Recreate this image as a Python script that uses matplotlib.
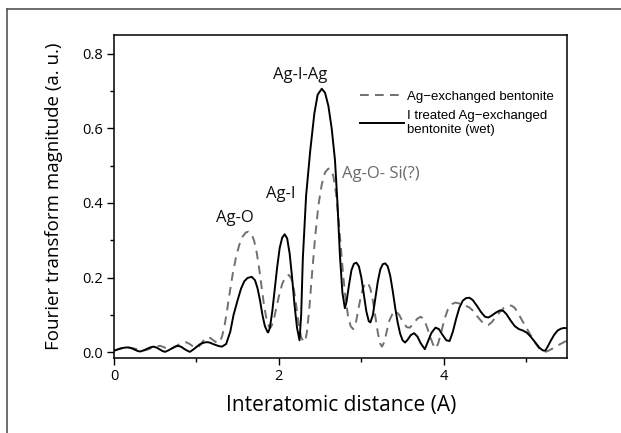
import matplotlib
matplotlib.use("Agg")
import matplotlib.pyplot as plt
from matplotlib.lines import Line2D
from matplotlib.ticker import MultipleLocator

# ---- data ----
solid_x = [0.00, 0.04, 0.08, 0.12, 0.17, 0.21, 0.25, 0.29, 0.32, 0.36, 0.40, 0.44, 0.48,
           0.52, 0.55, 0.59, 0.62, 0.66, 0.70, 0.74, 0.78, 0.82, 0.85, 0.89, 0.92, 0.96,
           1.00, 1.04, 1.08, 1.12, 1.16, 1.20, 1.25, 1.28, 1.31, 1.36, 1.41, 1.45, 1.50,
           1.54, 1.58, 1.62, 1.67, 1.71, 1.74, 1.77, 1.80, 1.83, 1.86, 1.87, 1.89, 1.92,
           1.95, 1.98, 2.01, 2.04, 2.07, 2.10, 2.13, 2.16, 2.19, 2.22, 2.25, 2.27, 2.29,
           2.33, 2.38, 2.43, 2.47, 2.52, 2.56, 2.60, 2.64, 2.68, 2.71, 2.74, 2.77, 2.80,
           2.82, 2.85, 2.88, 2.91, 2.94, 2.97, 3.00, 3.03, 3.06, 3.09, 3.11, 3.14, 3.17,
           3.20, 3.23, 3.26, 3.29, 3.32, 3.35, 3.38, 3.41, 3.44, 3.47, 3.50, 3.53, 3.56,
           3.60, 3.64, 3.68, 3.72, 3.77, 3.81, 3.85, 3.90, 3.94, 3.98, 4.03, 4.07, 4.11,
           4.15, 4.19, 4.23, 4.27, 4.31, 4.35, 4.40, 4.45, 4.50, 4.54, 4.58, 4.63, 4.68,
           4.72, 4.76, 4.81, 4.86, 4.91, 4.96, 5.01, 5.06, 5.11, 5.16, 5.20, 5.23, 5.26,
           5.30, 5.34, 5.38, 5.42, 5.46, 5.50]
solid_y = [0.004, 0.007, 0.010, 0.012, 0.013, 0.011, 0.007, 0.003, 0.002, 0.005, 0.009, 0.013, 0.015,
           0.012, 0.008, 0.003, 0.001, 0.005, 0.010, 0.015, 0.017, 0.014, 0.009, 0.004, 0.001, 0.007,
           0.014, 0.021, 0.025, 0.027, 0.026, 0.022, 0.018, 0.016, 0.015, 0.022, 0.055, 0.100, 0.140,
           0.170, 0.190, 0.199, 0.202, 0.193, 0.172, 0.140, 0.100, 0.070, 0.055, 0.053, 0.065, 0.110,
           0.170, 0.230, 0.280, 0.307, 0.316, 0.305, 0.265, 0.200, 0.125, 0.065, 0.032, 0.100, 0.250,
           0.420, 0.540, 0.640, 0.690, 0.706, 0.695, 0.660, 0.600, 0.515, 0.400, 0.260, 0.160, 0.118,
           0.135, 0.180, 0.220, 0.237, 0.240, 0.230, 0.200, 0.155, 0.110, 0.083, 0.080, 0.100, 0.145,
           0.190, 0.222, 0.236, 0.238, 0.230, 0.205, 0.165, 0.120, 0.080, 0.050, 0.032, 0.026, 0.033,
           0.046, 0.051, 0.042, 0.024, 0.008, 0.030, 0.052, 0.066, 0.062, 0.048, 0.032, 0.030, 0.055,
           0.090, 0.120, 0.138, 0.145, 0.146, 0.140, 0.125, 0.108, 0.095, 0.093, 0.098, 0.106, 0.112,
           0.111, 0.102, 0.085, 0.070, 0.062, 0.058, 0.052, 0.040, 0.026, 0.012, 0.005, 0.004, 0.015,
           0.032, 0.047, 0.058, 0.063, 0.065, 0.064]

dash_x = [0.00, 0.05, 0.10, 0.15, 0.19, 0.24, 0.28, 0.33, 0.37, 0.42, 0.46, 0.51, 0.56,
          0.60, 0.64, 0.68, 0.73, 0.78, 0.83, 0.87, 0.91, 0.95, 1.01, 1.04, 1.08, 1.13,
          1.17, 1.21, 1.25, 1.28, 1.31, 1.34, 1.37, 1.40, 1.44, 1.48, 1.52, 1.56, 1.60,
          1.63, 1.67, 1.70, 1.73, 1.76, 1.79, 1.82, 1.85, 1.88, 1.90, 1.93, 1.96, 2.00,
          2.04, 2.08, 2.12, 2.15, 2.18, 2.21, 2.24, 2.27, 2.30, 2.32, 2.34, 2.37, 2.40,
          2.44, 2.48, 2.52, 2.56, 2.60, 2.63, 2.66, 2.69, 2.72, 2.75, 2.78, 2.81, 2.84,
          2.87, 2.90, 2.93, 2.96, 2.99, 3.02, 3.05, 3.08, 3.11, 3.14, 3.17, 3.20, 3.23,
          3.25, 3.28, 3.31, 3.34, 3.38, 3.42, 3.46, 3.50, 3.55, 3.59, 3.63, 3.68, 3.72,
          3.76, 3.80, 3.84, 3.88, 3.90, 3.93, 3.97, 4.01, 4.05, 4.10, 4.14, 4.20, 4.26,
          4.31, 4.36, 4.41, 4.46, 4.50, 4.54, 4.58, 4.63, 4.68, 4.73, 4.78, 4.82, 4.86,
          4.90, 4.95, 5.00, 5.05, 5.10, 5.15, 5.19, 5.23, 5.27, 5.32, 5.38, 5.44, 5.50]
dash_y = [0.004, 0.008, 0.011, 0.012, 0.012, 0.010, 0.008, 0.006, 0.005, 0.008, 0.012, 0.016, 0.017,
          0.014, 0.010, 0.008, 0.013, 0.020, 0.025, 0.027, 0.023, 0.017, 0.012, 0.018, 0.030, 0.040,
          0.038, 0.031, 0.025, 0.027, 0.042, 0.070, 0.110, 0.155, 0.210, 0.255, 0.288, 0.310, 0.321,
          0.323, 0.316, 0.298, 0.268, 0.225, 0.175, 0.125, 0.088, 0.068, 0.066, 0.080, 0.110, 0.150,
          0.183, 0.202, 0.207, 0.198, 0.170, 0.125, 0.075, 0.040, 0.028, 0.030, 0.055, 0.120, 0.205,
          0.310, 0.395, 0.450, 0.482, 0.492, 0.490, 0.472, 0.430, 0.365, 0.285, 0.205, 0.140, 0.095,
          0.070, 0.062, 0.075, 0.110, 0.145, 0.172, 0.185, 0.186, 0.170, 0.138, 0.095, 0.052, 0.022,
          0.015, 0.028, 0.058, 0.085, 0.104, 0.110, 0.100, 0.082, 0.067, 0.066, 0.077, 0.090, 0.095,
          0.088, 0.065, 0.038, 0.015, 0.010, 0.022, 0.055, 0.090, 0.115, 0.129, 0.133, 0.130, 0.125,
          0.120, 0.110, 0.095, 0.082, 0.075, 0.073, 0.080, 0.094, 0.108, 0.119, 0.124, 0.125, 0.119,
          0.105, 0.085, 0.066, 0.047, 0.028, 0.012, 0.004, 0.001, 0.004, 0.010, 0.018, 0.025, 0.032]

labels = ["Ag\u2212exchanged bentonite", "I treated Ag\u2212exchanged\nbentonite (wet)"]
peak_names = ["Ag-O", "Ag-I", "Ag-I-Ag"]
peak_pos = [(1.47, 0.359), (2.02, 0.423), (2.26, 0.744)]
si_label = "Ag-O- Si(?)"
si_pos = (2.76, 0.478)
x_ticks = [0, 2, 4]
y_ticks = [0.0, 0.2, 0.4, 0.6, 0.8]

plt.rcParams['font.family'] = ['Open Sans', 'DejaVu Sans']

fig = plt.figure(figsize=(6.21, 4.33), dpi=100)
ax = fig.add_axes([0.1836, 0.1732, 0.7302, 0.746])

ax.plot(dash_x, dash_y, color='#707070', lw=1.4, dashes=(4.5, 3.2), label=labels[0])
ax.plot(solid_x, solid_y, color='black', lw=1.4, label=labels[1])

ax.set_xlim(0, 5.5)
ax.set_ylim(-0.0155, 0.85)
ax.set_xticks(x_ticks)
ax.set_yticks(y_ticks)
ax.set_yticklabels([f"{v:.1f}" for v in y_ticks])
ax.xaxis.set_minor_locator(MultipleLocator(1))
ax.yaxis.set_minor_locator(MultipleLocator(0.1))
ax.tick_params(which='major', direction='out', length=5, width=1.0, labelsize=10.5, pad=3)
ax.tick_params(which='minor', direction='out', length=3, width=1.0)
for s in ax.spines.values():
    s.set_linewidth(1.1)

ax.set_xlabel("Interatomic distance (A)", fontsize=15, labelpad=8)
ax.set_ylabel("Fourier transform magnitude (a. u.)", fontsize=13.5, labelpad=14)

for name, (px, py) in zip(peak_names, peak_pos):
    ax.text(px, py, name, fontsize=12, ha='center', va='center', color='#111111')
ax.text(si_pos[0], si_pos[1], si_label, fontsize=12, ha='left', va='center', color='#6a6a6a')

leg = ax.legend(loc='upper left', bbox_to_anchor=(0.53, 0.845), frameon=False,
                prop={'family': 'Liberation Sans', 'size': 9.5},
                handlelength=3.4, handletextpad=0.2, labelspacing=0.6, borderaxespad=0)

# outer frame (top and left edges)
fig.add_artist(Line2D([7 / 621, 1.0], [1 - 8.5 / 433, 1 - 8.5 / 433], color='#555555', lw=1.2,
                      transform=fig.transFigure))
fig.add_artist(Line2D([7 / 621, 7 / 621], [0.0, 1 - 8.5 / 433], color='#555555', lw=1.2,
                      transform=fig.transFigure))

fig.savefig("out.png", dpi=100)
